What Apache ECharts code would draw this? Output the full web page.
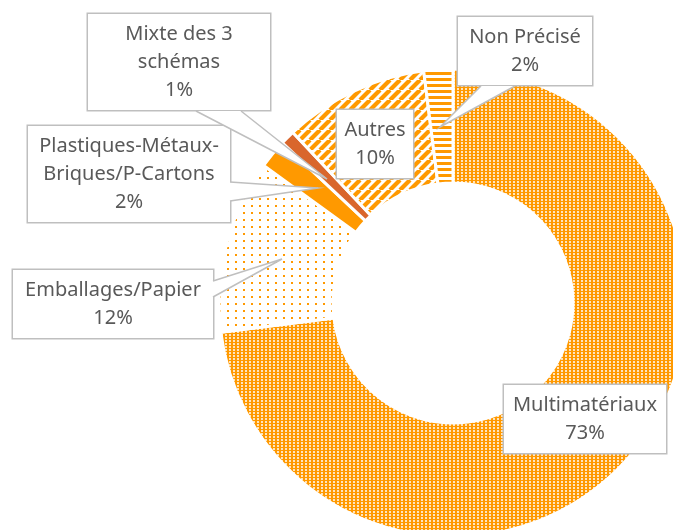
<!DOCTYPE html>
<html>
<head>
<meta charset="utf-8">
<script src="https://cdn.jsdelivr.net/npm/echarts@6/dist/echarts.min.js"></script>
<style>
  html, body { margin: 0; padding: 0; background: #fff; }
  #main { width: 673px; height: 530px; }
</style>
</head>
<body>
<div id="main"></div>
<script>
const categories = ['Multimatériaux', 'Emballages/Papier', 'Plastiques-Métaux-Briques/P-Cartons', 'Mixte des 3 schémas', 'Autres', 'Non Précisé'];
const shares = [73, 12, 2, 1, 10, 2];
const labelNames = ['Multimatériaux', 'Emballages/Papier', 'Plastiques-Métaux-\nBriques/P-Cartons', 'Mixte des 3\nschémas', 'Autres', 'Non Précisé'];

const ORANGE = '#ff9900';
const RUST = '#d9662c';
const GREY = '#bfbfbf';

// small repeating tiles for the hatched fills
function tile(w, h, draw) {
  const c = document.createElement('canvas');
  c.width = w;
  c.height = h;
  const ctx = c.getContext('2d');
  ctx.fillStyle = '#fff';
  ctx.fillRect(0, 0, w, h);
  draw(ctx, w, h);
  return { image: c, repeat: 'repeat' };
}

const fills = [
  tile(4, 3, (ctx) => { ctx.fillStyle = ORANGE; ctx.fillRect(0, 0, 4, 3); ctx.fillStyle = 'rgba(255,255,255,0.75)'; ctx.fillRect(1, 1, 2, 2); }),
  tile(8, 7, (ctx) => { ctx.fillStyle = ORANGE; ctx.fillRect(3, 2, 2, 2); }),
  ORANGE,
  RUST,
  tile(10, 10, (ctx, w, h) => {
    ctx.strokeStyle = ORANGE;
    ctx.lineWidth = 4.2;
    [-w, 0, w].forEach(o => { ctx.beginPath(); ctx.moveTo(o, h); ctx.lineTo(o + w, 0); ctx.stroke(); });
  }),
  tile(6, 6, (ctx) => { ctx.fillStyle = ORANGE; ctx.fillRect(0, 0, 6, 3); })
];

// callout boxes: centre + width, and pointer [base A, tip, base B]
const callouts = [
  { x: 585, y: 419, w: 162, pointer: null },
  { x: 113, y: 304, w: 200, pointer: [[213, 281], [282, 259], [213, 297]] },
  { x: 129, y: 174, w: 202, pointer: [[230, 182], [318, 188], [230, 201]] },
  { x: 179, y: 62, w: 182, pointer: [[196, 111], [327, 179], [241, 111]] },
  { x: 375, y: 144, w: 76, pointer: null },
  { x: 525, y: 51, w: 134, pointer: [[481, 86], [440, 127], [515, 86]] }
];

const pointers = [];
callouts.forEach(c => {
  if (!c.pointer) return;
  pointers.push({ type: 'polygon', z: 100, silent: true, shape: { points: c.pointer }, style: { fill: '#fff', stroke: null } });
  pointers.push({ type: 'polyline', z: 101, silent: true, shape: { points: c.pointer }, style: { stroke: GREY, lineWidth: 1.5, fill: null } });
});

const myChart = echarts.init(document.getElementById('main'));

myChart.setOption({
  animation: false,
  graphic: pointers,
  series: [{
    type: 'pie',
    center: [453, 303],
    radius: [120, 234],
    startAngle: 90,
    clockwise: true,
    avoidLabelOverlap: false,
    itemStyle: { borderColor: '#fff', borderWidth: 3 },
    label: {
      show: true,
      position: 'outside',
      formatter: (p) => labelNames[p.dataIndex] + '\n' + Math.round(p.percent) + '%',
      color: '#595959',
      fontFamily: 'Noto Sans',
      fontSize: 20,
      lineHeight: 28,
      align: 'center',
      backgroundColor: '#fff',
      borderColor: GREY,
      borderWidth: 1.5,
      padding: [7, 0, 5, 0]
    },
    labelLine: { show: false },
    labelLayout: (params) => {
      const c = callouts[params.dataIndex];
      return { x: c.x, y: c.y, align: 'center', verticalAlign: 'middle' };
    },
    emphasis: { disabled: true },
    data: categories.map((name, i) => ({
      name: name,
      value: shares[i],
      itemStyle: { color: fills[i] },
      label: { width: callouts[i].w }
    }))
  }]
});
</script>
</body>
</html>
